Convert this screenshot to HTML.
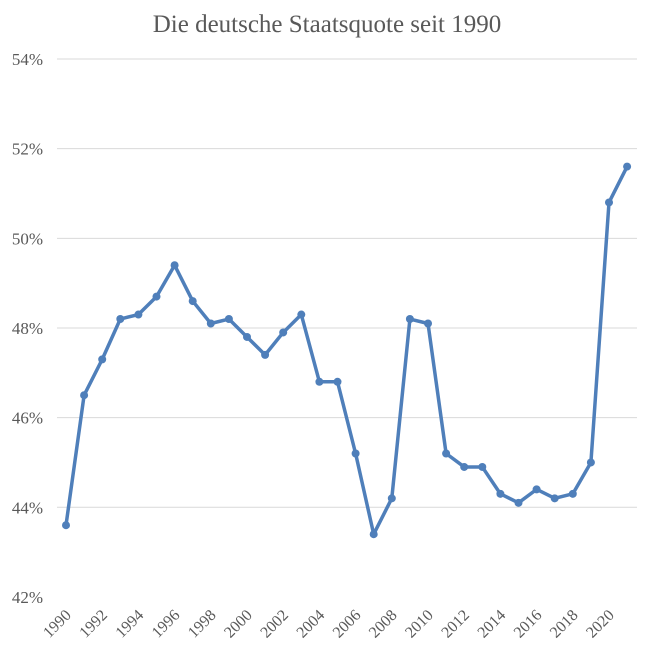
<!DOCTYPE html>
<html><head><meta charset="utf-8"><style>
html,body{margin:0;padding:0;background:#fff;}
svg text{font-family:"Liberation Serif",serif;fill:#595959;}
</style></head><body>
<svg id="chart" width="653" height="655" xmlns="http://www.w3.org/2000/svg">
<text x="327" y="32" text-anchor="middle" font-size="25">Die deutsche Staatsquote seit 1990</text>
<g id="grid"></g><g id="ylab"></g><g id="xlab"></g><g id="series"></g>
</svg>
<script>
const years=[1990,1991,1992,1993,1994,1995,1996,1997,1998,1999,2000,2001,2002,2003,2004,2005,2006,2007,2008,2009,2010,2011,2012,2013,2014,2015,2016,2017,2018,2019,2020,2021];
const values=[43.6,46.5,47.3,48.2,48.3,48.7,49.4,48.6,48.1,48.2,47.8,47.4,47.9,48.3,46.8,46.8,45.2,43.4,44.2,48.2,48.1,45.2,44.9,44.9,44.3,44.1,44.4,44.2,44.3,45.0,50.8,51.6];
const yTicks=[42,44,46,48,50,52,54];
const xTickYears=[1990,1992,1994,1996,1998,2000,2002,2004,2006,2008,2010,2012,2014,2016,2018,2020];
const NS="http://www.w3.org/2000/svg";
const y=v=>59+(54-v)*44.83;
const x=yr=>66+(yr-1990)*18.1;
const g=id=>document.getElementById(id);
function mk(t,a){const e=document.createElementNS(NS,t);for(const k in a)e.setAttribute(k,a[k]);return e;}
yTicks.forEach(t=>{
  if(t>42){const l=mk('line',{x1:57,x2:637,y1:y(t),y2:y(t),stroke:'#d9d9d9','stroke-width':1});
  
  
  g('grid').appendChild(l);}
  const tx=mk('text',{x:43,y:y(t)+6,'text-anchor':'end','font-size':17});
  tx.textContent=t+'%';
  
  
  g('ylab').appendChild(tx);
});
xTickYears.forEach(yr=>{
  const px=x(yr)+6,py=616;
  const tx=mk('text',{x:px,y:py,'text-anchor':'end','font-size':16,transform:`rotate(-45 ${px} ${py})`});
  tx.textContent=yr;
  
  
  g('xlab').appendChild(tx);
});
const pts=years.map((yr,i)=>x(yr)+','+y(values[i])).join(' ');
const pl=mk('polyline',{points:pts,fill:'none',stroke:'#4f7fba','stroke-width':3.5,'stroke-linejoin':'round'});


g('series').appendChild(pl);
years.forEach((yr,i)=>{
  const c=mk('circle',{cx:x(yr),cy:y(values[i]),r:4,fill:'#4f7fba'});
  
  
  g('series').appendChild(c);
});
</script>
</body></html>
